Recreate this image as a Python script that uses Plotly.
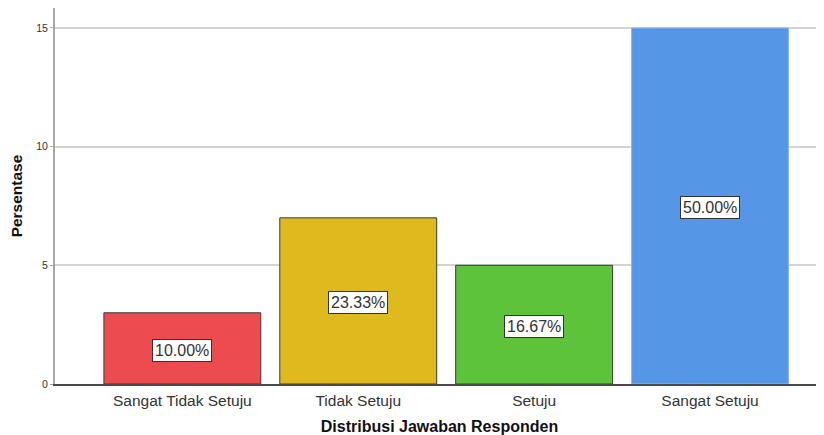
import plotly.graph_objects as go

categories = ["Sangat Tidak Setuju", "Tidak Setuju", "Setuju", "Sangat Setuju"]
counts = [3, 7, 5, 15]
pct_labels = ["10.00%", "23.33%", "16.67%", "50.00%"]
colors = ["#EC4B4F", "#DFBA1F", "#5DC33A", "#5596E6"]
line_colors = ["#3A3A3A", "#3A3A3A", "#3A3A3A", "#8DB6F0"]
y_ticks = [0, 5, 10, 15]

fig = go.Figure()
fig.add_trace(go.Bar(
    x=list(range(len(categories))), y=counts,
    marker=dict(color=colors, line=dict(color=line_colors, width=1)),
    width=0.892, hoverinfo="skip",
))

for i, (c, lab) in enumerate(zip(counts, pct_labels)):
    fig.add_annotation(
        x=i, y=c / 2 - 0.08, text=lab, showarrow=False,
        font=dict(family="Arial, Liberation Sans", size=16, color="#333333"),
        bgcolor="white", bordercolor="#333333", borderwidth=1, borderpad=2,
    )

# page body has an 8px default margin; compensate so plot sits where the reference has it
fig.update_layout(
    width=816, height=427,
    margin=dict(l=47, r=0, t=0, b=51, autoexpand=False),
    paper_bgcolor="white", plot_bgcolor="white",
    showlegend=False,
    font=dict(family="Arial, Liberation Sans", color="#333333"),
    xaxis=dict(
        range=[-0.724, 3.648], automargin=False,
        tickvals=list(range(len(categories))), ticktext=categories,
        tickfont=dict(size=15.5, color="#333333"),
        showgrid=False, zeroline=False,
        showline=True, linecolor="#4A4A4A", linewidth=1.5,
        ticks="outside", ticklen=2, tickcolor="rgba(0,0,0,0)",
        title=dict(text="<b>Distribusi Jawaban Responden</b>",
                   font=dict(size=16, color="#111111"), standoff=12),
    ),
    yaxis=dict(
        range=[0, 15.84], automargin=False,
        tickvals=y_ticks,
        tickfont=dict(size=10.5, color="#333333"),
        showgrid=True, gridcolor="#D3D3D3", gridwidth=1.5,
        zeroline=False,
        showline=True, linecolor="#A8A8A8", linewidth=2,
        ticks="outside", ticklen=3, tickcolor="#A8A8A8",
        title=dict(text="<b>Persentase</b>",
                   font=dict(size=15.5, color="#111111"), standoff=16),
    ),
)

fig.write_html("out.html")
